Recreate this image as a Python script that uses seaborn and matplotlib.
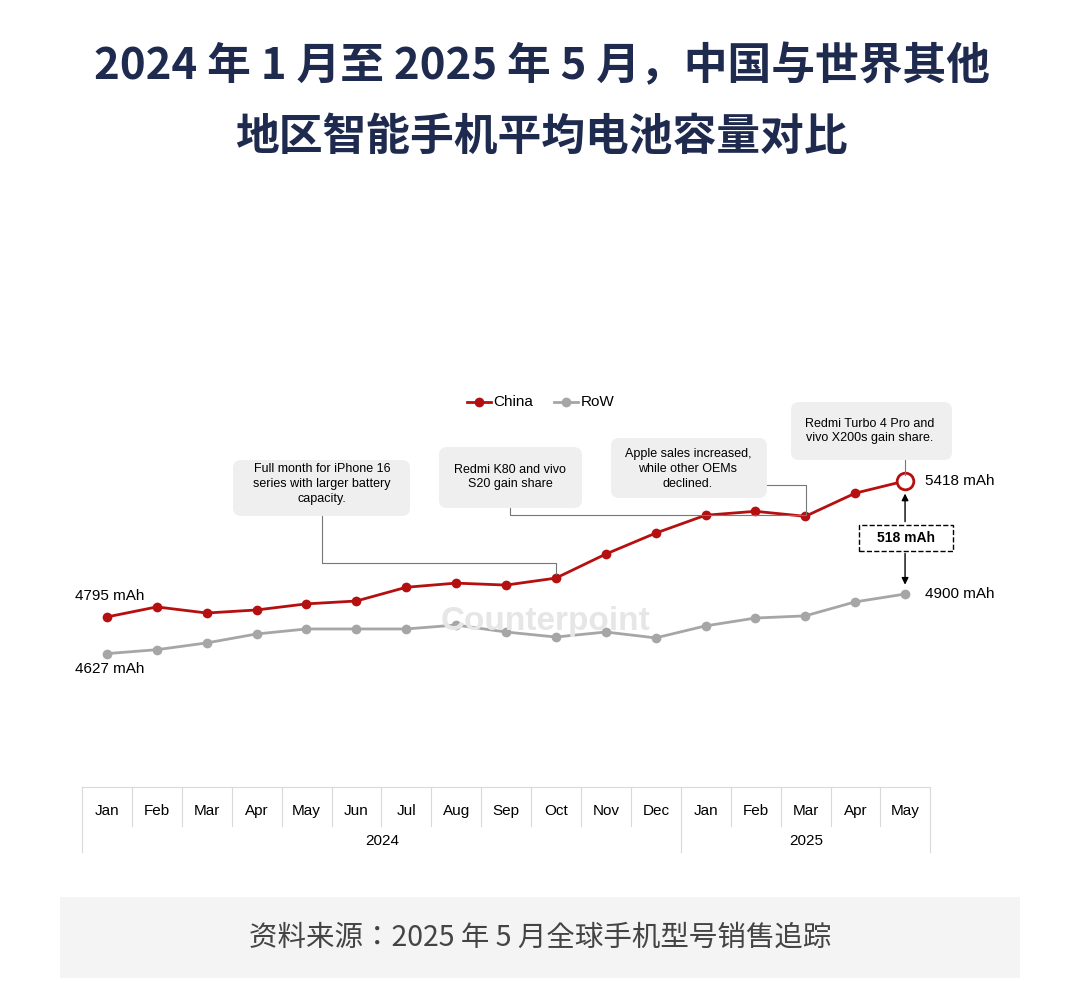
import seaborn as sns
import matplotlib.pyplot as plt
import pandas as pd
from matplotlib.patches import FancyBboxPatch, Rectangle

months = ["Jan", "Feb", "Mar", "Apr", "May", "Jun", "Jul", "Aug", "Sep", "Oct", "Nov", "Dec",
          "Jan", "Feb", "Mar", "Apr", "May"]
years = ["2024"] * 12 + ["2025"] * 5
china = [4795, 4841, 4813, 4827, 4855, 4868, 4931, 4950, 4941, 4973, 5083, 5179,
         5261, 5279, 5256, 5362, 5418]
row = [4627, 4645, 4676, 4717, 4740, 4740, 4740, 4758, 4726, 4703, 4726, 4699,
       4754, 4790, 4800, 4864, 4900]

df = pd.DataFrame({"idx": list(range(17)) * 2, "mAh": china + row,
                   "Region": ["China"] * 17 + ["RoW"] * 17})

CJK = ["Noto Sans CJK SC", "Noto Sans CJK JP", "Noto Sans CJK TC", "Noto Sans CJK KR"]
plt.rcParams["font.family"] = ["Liberation Sans"] + CJK
fig = plt.figure(figsize=(10.79, 10.05), dpi=100)
W, H = 1079, 1005

def fx(px): return px / W
def fy(py): return 1 - py / H

ax = fig.add_axes([fx(82), fy(780), fx(930) - fx(82), fy(350) - fy(780)])
pal = {"China": "#b50f0f", "RoW": "#a6a6a6"}
sns.lineplot(data=df, x="idx", y="mAh", hue="Region", palette=pal, marker="o",
             markersize=7, markeredgewidth=0, linewidth=2, ax=ax, legend=False)
ax.plot(16, china[-1], "o", ms=12, mfc="white", mec="#b50f0f", mew=2)
ax.set_xlim(-0.5, 16.5)
ax.set_ylim(4048, 6018)
ax.axis("off")

# legend
fig.lines.append(plt.Line2D([fx(467), fx(491)], [fy(402)] * 2, color=pal["China"], lw=2, transform=fig.transFigure))
fig.lines.append(plt.Line2D([fx(479)], [fy(402)], marker="o", color=pal["China"], ms=6, transform=fig.transFigure))
fig.text(fx(493), fy(402), "China", fontsize=11, va="center")
fig.lines.append(plt.Line2D([fx(554), fx(578)], [fy(402)] * 2, color=pal["RoW"], lw=2, transform=fig.transFigure))
fig.lines.append(plt.Line2D([fx(566)], [fy(402)], marker="o", color=pal["RoW"], ms=6, transform=fig.transFigure))
fig.text(fx(581), fy(402), "RoW", fontsize=11, va="center")

# value labels
ax.text(-0.65, china[0] + 65, f"{china[0]} mAh", fontsize=11, ha="left", va="bottom")
ax.text(-0.65, row[0] - 40, f"{row[0]} mAh", fontsize=11, ha="left", va="top")
ax.text(16.4, china[-1], f"{china[-1]} mAh", fontsize=11, va="center")
ax.text(16.4, row[-1], f"{row[-1]} mAh", fontsize=11, va="center")

# difference arrows
mid = (china[-1] + row[-1]) / 2
ax.annotate("", xy=(16, china[-1] - 45), xytext=(16, mid + 60),
            arrowprops=dict(arrowstyle="-|>", color="black", lw=1))
ax.annotate("", xy=(16, row[-1] + 30), xytext=(16, mid - 60),
            arrowprops=dict(arrowstyle="-|>", color="black", lw=1))
fig.patches.append(Rectangle((fx(859), fy(551)), fx(953) - fx(859), fy(525) - fy(551), fc="white",
                             ec="black", ls="--", lw=1, transform=fig.transFigure))
fig.text(fx(906), fy(538), f"{china[-1] - row[-1]} mAh", fontsize=10, fontweight="bold",
         ha="center", va="center")

# callouts
notes = [
    (322, 484, 233, 460, 410, 516, "Full month for iPhone 16\nseries with larger battery\ncapacity."),
    (510, 477, 439, 447, 582, 508, "Redmi K80 and vivo\nS20 gain share"),
    (688, 469, 611, 438, 767, 498, "Apple sales increased,\nwhile other OEMs\ndeclined."),
    (870, 431, 791, 402, 952, 460, "Redmi Turbo 4 Pro and\nvivo X200s gain share."),
]
for cx, cy, x0, y0, x1, y1, txt in notes:
    fig.patches.append(FancyBboxPatch((fx(x0), fy(y1)), fx(x1) - fx(x0), fy(y0) - fy(y1),
                                      boxstyle="round,pad=0,rounding_size=0.008", fc="#efefef",
                                      ec="none", transform=fig.transFigure))
    fig.text(fx(cx), fy(cy), txt, fontsize=9, ha="center", va="center", linespacing=1.3)
conn = [[(322, 516), (322, 563), (556, 563), (556, 574)],
        [(510, 508), (510, 515), (806, 515), (806, 512)],
        [(767, 485), (806, 485), (806, 512)],
        [(905, 460), (905, 475)]]
for pts in conn:
    xs = [fx(p[0]) for p in pts]
    ys = [fy(p[1]) for p in pts]
    fig.lines.append(plt.Line2D(xs, ys, color="#777777", lw=0.8, transform=fig.transFigure))

# category table
for i, m in enumerate(months):
    x = 107 + i * 49.9
    fig.text(fx(x), fy(811), m, fontsize=11, ha="center", va="center")
for i in range(18):
    x = 82 + i * 49.9
    full = i in (0, 12, 17)
    fig.lines.append(plt.Line2D([fx(x)] * 2, [fy(787), fy(852 if full else 826)], color="#d9d9d9",
                                lw=0.8, transform=fig.transFigure))
fig.lines.append(plt.Line2D([fx(82), fx(930)], [fy(787)] * 2, color="#d9d9d9", lw=0.8, transform=fig.transFigure))
fig.text(fx(382), fy(841), "2024", fontsize=11, ha="center", va="center")
fig.text(fx(806), fy(841), "2025", fontsize=11, ha="center", va="center")

# watermark
fig.text(fx(545), fy(621), "Counterpoint", fontsize=24, fontweight="bold", color="#e6e6e6",
         ha="center", va="center", zorder=0)

# title
fig.text(0.502, fy(66), "2024 年 1 月至 2025 年 5 月，中国与世界其他", fontsize=31.5, fontweight="bold",
         color="#1f2a4f", ha="center", va="center", fontfamily=CJK)
fig.text(0.502, fy(137), "地区智能手机平均电池容量对比", fontsize=31.5, fontweight="bold",
         color="#1f2a4f", ha="center", va="center", fontfamily=CJK)

# footer
fig.patches.append(Rectangle((fx(60), fy(978)), fx(1020) - fx(60), fy(897) - fy(978), fc="#f4f4f4",
                             ec="none", transform=fig.transFigure))
fig.text(fx(540), fy(938), "资料来源：2025 年 5 月全球手机型号销售追踪", fontsize=20.5, color="#444444",
         ha="center", va="center", fontfamily=CJK)

fig.savefig("out.png", dpi=100)
